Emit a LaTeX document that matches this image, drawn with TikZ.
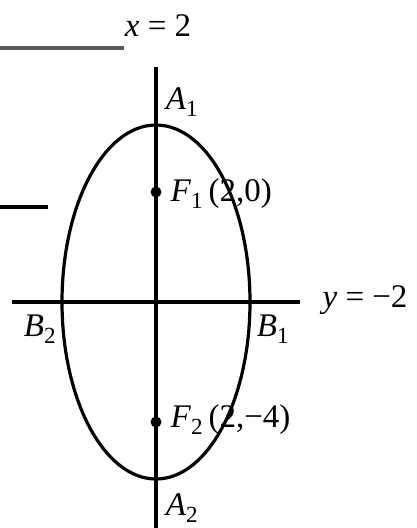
\documentclass[tikz,border=0pt]{standalone}
\usepackage{fontspec}
\setmainfont{Liberation Serif}
\begin{document}
\begin{tikzpicture}[x=1pt, y=-1pt, line width=3.2pt,
    lbl/.style={font=\fontsize{33}{36}\selectfont, inner sep=0pt}]
    \useasboundingbox (0,0) rectangle (416,528);

    % stray rules from the page
    \draw[gray!70!black, line width=4.5pt] (0,48) -- (124,48);
    \draw[line width=3.5pt] (0,207) -- (48,207);

    % axes through the centre
    \coordinate (C) at (156,302);
    \draw (156,67) -- (156,528);
    \draw (12,302) -- (300,302);

    \draw (C) ellipse (94 and 177);

    \coordinate (F1) at (156,192);
    \coordinate (F2) at (156,422);
    \fill (F1) circle (5.5pt);
    \fill (F2) circle (5.5pt);

    \node[lbl, anchor=west] (f1) at (169,194) {\textit{F}\textsubscript{1}\,(2,0)};
    \node[lbl, anchor=west] (f2) at (169,420) {\textit{F}\textsubscript{2}\,(2,−4)};
    \node[lbl] (a1) at (182,102) {\textit{A}\textsubscript{1}};
    \node[lbl] (a2) at (182,508) {\textit{A}\textsubscript{2}};
    \node[lbl] (b1) at (273,329) {\textit{B}\textsubscript{1}};
    \node[lbl] (b2) at (40,329) {\textit{B}\textsubscript{2}};
    \node[lbl, anchor=west] (yeq) at (321,300) {\textit{y} = −2};
    \node[lbl] (xeq) at (158,26) {\textit{x} = 2};
\end{tikzpicture}
\end{document}
